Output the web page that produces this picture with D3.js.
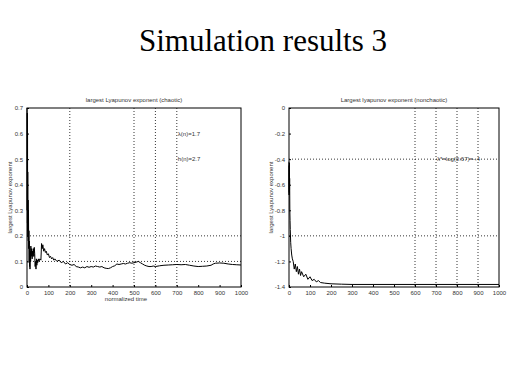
<!DOCTYPE html>
<meta charset="utf-8">
<style>
    body { margin: 0; padding: 0; background: #fff; }
    svg { display: block; }
    .tick text { font-family: "Liberation Sans", Arial, sans-serif; font-size: 6px; fill: #333; }
    .lbl { font-family: "Liberation Sans", Arial, sans-serif; font-size: 6px; fill: #333; }
    .grid { stroke: #000; stroke-width: 0.8; stroke-dasharray: 1,2; fill: none; }
</style>
<body>
<script src="https://d3js.org/d3.v7.min.js"></script>
<script>
    // left panel: chaotic case
    var leftX = [0,1,1.5,2,2.5,3,3.5,4,5,6,7,8,9,10,11,12,13,14,15,17,18,20,22,24,26,28,30,32,34,36,38,40,42,44,46,48,50,53,56,60,65,68,71,74,78,82,86,90,95,100,105,110,115,120,125,130,140,150,160,170,180,190,200,210,220,230,240,250,260,270,280,290,300,310,320,330,340,350,360,370,380,390,400,410,420,430,440,450,460,470,480,490,500,510,520,530,540,550,560,570,580,590,600,620,640,660,680,700,720,740,760,780,800,820,840,860,870,880,900,920,940,960,980,1000];
    var leftY = [0.70,0.30,0.68,0.25,0.60,0.22,0.45,0.20,0.34,0.18,0.30,0.15,0.22,0.10,0.18,0.08,0.15,0.07,0.14,0.10,0.16,0.12,0.15,0.11,0.14,0.12,0.15,0.12,0.155,0.13,0.08,0.10,0.07,0.11,0.085,0.105,0.095,0.11,0.10,0.11,0.105,0.17,0.15,0.165,0.14,0.15,0.135,0.14,0.125,0.13,0.115,0.12,0.11,0.115,0.105,0.11,0.10,0.105,0.095,0.10,0.09,0.095,0.088,0.085,0.088,0.08,0.078,0.075,0.078,0.075,0.08,0.077,0.08,0.078,0.082,0.08,0.078,0.08,0.075,0.073,0.072,0.075,0.08,0.083,0.09,0.088,0.09,0.092,0.09,0.093,0.095,0.093,0.095,0.097,0.10,0.095,0.09,0.085,0.082,0.08,0.08,0.082,0.08,0.083,0.085,0.086,0.087,0.088,0.087,0.088,0.085,0.082,0.08,0.081,0.082,0.085,0.09,0.093,0.094,0.093,0.09,0.088,0.087,0.086];

    // right panel: nonchaotic case
    var rightX = [0,0.5,1,1.5,2,2.5,3,4,5,6,8,10,13,16,20,25,30,35,40,45,50,55,60,70,80,90,100,110,120,130,140,150,170,200,250,300,400,500,600,700,800,900,1000];
    var rightY = [-0.42,-0.68,-0.45,-0.66,-0.43,-0.64,-0.55,-0.80,-0.88,-0.95,-1.05,-1.10,-1.15,-1.18,-1.20,-1.26,-1.22,-1.28,-1.24,-1.30,-1.26,-1.31,-1.28,-1.32,-1.30,-1.34,-1.32,-1.35,-1.34,-1.36,-1.35,-1.365,-1.37,-1.375,-1.378,-1.38,-1.38,-1.38,-1.38,-1.38,-1.38,-1.38,-1.38];

    var xTicks = [0,100,200,300,400,500,600,700,800,900,1000];
    var leftYTicks = [0,0.1,0.2,0.3,0.4,0.5,0.6,0.7];
    var rightYTicks = [0,-0.2,-0.4,-0.6,-0.8,-1,-1.2,-1.4];

    var width = 519, height = 389;
    var svg = d3.select("body").append("svg")
        .attr("width", width)
        .attr("height", height);

    svg.append("text")
        .attr("x", 263).attr("y", 51)
        .attr("text-anchor", "middle")
        .style("font-family", "'Liberation Serif', 'Times New Roman', serif")
        .style("font-size", "31px")
        .text("Simulation results 3");

    function panel(opts) {
        var x = d3.scaleLinear().domain([0, 1000]).range([opts.left, opts.right]);
        var y = d3.scaleLinear().domain(opts.yDomain).range([opts.bottom, opts.top]);
        var g = svg.append("g");

        // grid lines
        g.selectAll(".vg").data(opts.vGrid).enter().append("line")
            .attr("class", "grid")
            .attr("x1", d => x(d)).attr("x2", d => x(d))
            .attr("y1", opts.top).attr("y2", opts.bottom);
        g.selectAll(".hg").data(opts.hGrid).enter().append("line")
            .attr("class", "grid")
            .attr("x1", opts.left).attr("x2", opts.right)
            .attr("y1", d => y(d)).attr("y2", d => y(d));

        // axes
        g.append("g").attr("transform", "translate(0," + opts.bottom + ")")
            .call(d3.axisBottom(x).tickValues(xTicks).tickSize(-2).tickPadding(4).tickFormat(d3.format("d")))
            .call(a => a.select(".domain").remove());
        g.append("g").attr("transform", "translate(" + opts.left + ",0)")
            .call(d3.axisLeft(y).tickValues(opts.yTicks).tickSize(-2).tickPadding(4).tickFormat(d => String(d)))
            .call(a => a.select(".domain").remove());

        g.append("rect")
            .attr("x", opts.left).attr("y", opts.top)
            .attr("width", opts.right - opts.left).attr("height", opts.bottom - opts.top)
            .attr("fill", "none").attr("stroke", "#000").attr("stroke-width", 1);

        var line = d3.line().x(d => x(d[0])).y(d => y(d[1]));
        g.append("path")
            .datum(d3.zip(opts.xs, opts.ys))
            .attr("d", line)
            .attr("fill", "none")
            .attr("stroke", "#000")
            .attr("stroke-width", 1);

        g.append("text").attr("class", "lbl")
            .attr("x", (opts.left + opts.right) / 2).attr("y", opts.top - 6)
            .attr("text-anchor", "middle").text(opts.title);
        g.append("text").attr("class", "lbl")
            .attr("transform", "translate(" + opts.yLabelX + "," + ((opts.top + opts.bottom) / 2) + ") rotate(-90)")
            .attr("text-anchor", "middle").text(opts.yLabel);
        if (opts.xLabel) {
            g.append("text").attr("class", "lbl")
                .attr("x", (opts.left + opts.right) / 2 - 8).attr("y", opts.bottom + 14)
                .attr("text-anchor", "middle").text(opts.xLabel);
        }
        opts.notes.forEach(function(n) {
            g.append("text").attr("class", "lbl")
                .attr("x", x(n[0]) + 1).attr("y", y(n[1]) + 2)
                .text(n[2]);
        });
    }

    panel({
        left: 27, right: 241, top: 108, bottom: 287,
        yDomain: [0, 0.7], yTicks: leftYTicks,
        xs: leftX, ys: leftY,
        vGrid: [200, 500, 600, 700], hGrid: [0.1, 0.2],
        title: "largest Lyapunov exponent (chaotic)",
        yLabel: "largest Lyapunov exponent",
        yLabelX: 12,
        xLabel: "normalized time",
        notes: [[700, 0.6, "λ(n)=1.7"], [700, 0.5, "h(n)=2.7"]]
    });

    panel({
        left: 289, right: 499, top: 108, bottom: 287,
        yDomain: [-1.4, 0], yTicks: rightYTicks,
        xs: rightX, ys: rightY,
        vGrid: [600, 700, 800, 900], hGrid: [-0.4, -1],
        title: "Largest lyapunov exponent (nonchaotic)",
        yLabel: "largest Lyapunov exponent",
        yLabelX: 273,
        xLabel: null,
        notes: [[700, -0.4, "λ*=log(0.67)=-.4"]]
    });
</script>
</body>
</html>
